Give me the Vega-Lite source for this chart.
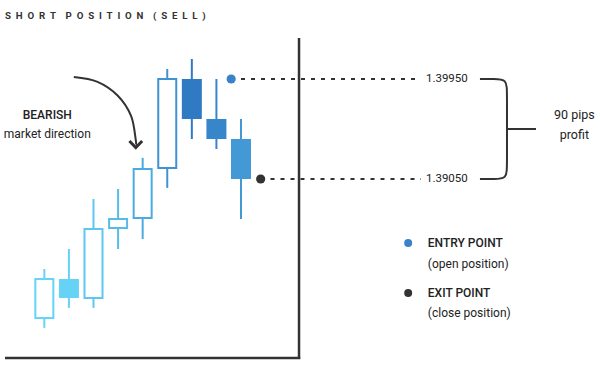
{
  "$schema": "https://vega.github.io/schema/vega-lite/v6.json",
  "width": 600,
  "height": 370,
  "autosize": {"type": "fit", "contains": "padding"},
  "padding": 0,
  "background": "white",
  "config": {"view": {"stroke": null}, "font": "Roboto"},
  "datasets": {
    "candles": [
      {"c": 1, "open": 1.3780, "high": 1.3824, "low": 1.3771, "close": 1.3815},
      {"c": 2, "open": 1.3815, "high": 1.3842, "low": 1.3789, "close": 1.3798},
      {"c": 3, "open": 1.3798, "high": 1.3887, "low": 1.3789, "close": 1.3860},
      {"c": 4, "open": 1.3861, "high": 1.3896, "low": 1.3842, "close": 1.3869},
      {"c": 5, "open": 1.3870, "high": 1.3924, "low": 1.3851, "close": 1.3914},
      {"c": 6, "open": 1.3915, "high": 1.4004, "low": 1.3897, "close": 1.3995},
      {"c": 7, "open": 1.3995, "high": 1.4013, "low": 1.3941, "close": 1.3959},
      {"c": 8, "open": 1.3959, "high": 1.3995, "low": 1.3932, "close": 1.3941},
      {"c": 9, "open": 1.3941, "high": 1.3959, "low": 1.3869, "close": 1.3905}
    ],
    "levels": [
      {"name": "entry", "price": 1.3995, "dot": 8.6, "from": 9.0, "to": 16.32, "label": "1.39950"},
      {"name": "exit", "price": 1.3905, "dot": 9.8, "from": 10.2, "to": 16.32, "label": "1.39050"}
    ],
    "legend": [
      {"name": "entry", "x": 15.8, "tx": 16.6, "y1": 1.38474, "y2": 1.38285, "head": "ENTRY POINT", "sub": "(open position)"},
      {"name": "exit", "x": 15.8, "tx": 16.6, "y1": 1.38024, "y2": 1.37844, "head": "EXIT POINT", "sub": "(close position)"}
    ],
    "bracket": [
      {"o": 1, "x": 18.72, "y": 1.3995},
      {"o": 2, "x": 19.28, "y": 1.3995},
      {"o": 3, "x": 19.82, "y": 1.3995},
      {"o": 4, "x": 19.82, "y": 1.39824},
      {"o": 5, "x": 19.82, "y": 1.39176},
      {"o": 6, "x": 19.82, "y": 1.3905},
      {"o": 7, "x": 19.28, "y": 1.3905},
      {"o": 8, "x": 18.72, "y": 1.3905}
    ],
    "arc": [
      {"o": 1, "x": 2.2, "y": 1.39968},
      {"o": 2, "x": 3.164, "y": 1.399248},
      {"o": 3, "x": 3.98, "y": 1.398015},
      {"o": 4, "x": 4.528, "y": 1.396179},
      {"o": 5, "x": 4.72, "y": 1.39401},
      {"o": 6, "x": 4.72, "y": 1.39356}
    ],
    "chevron": [
      {"o": 1, "x": 4.46, "y": 1.39392},
      {"o": 2, "x": 4.72, "y": 1.393335},
      {"o": 3, "x": 4.98, "y": 1.39392}
    ],
    "frame": [
      {"x": 11.36, "x2": 11.36, "y": 1.40319, "y2": 1.37430},
      {"x": -0.6, "x2": 11.41, "y": 1.37439, "y2": 1.37439}
    ],
    "texts": [
      {"x": -0.6, "y": 1.40517, "t": "S\u00a0\u00a0H\u00a0\u00a0O\u00a0\u00a0R\u00a0\u00a0T\u00a0\u00a0\u00a0\u00a0P\u00a0\u00a0O\u00a0\u00a0S\u00a0\u00a0I\u00a0\u00a0T\u00a0\u00a0I\u00a0\u00a0O\u00a0\u00a0N\u00a0\u00a0\u00a0\u00a0(\u00a0\u00a0S\u00a0\u00a0E\u00a0\u00a0L\u00a0\u00a0L\u00a0\u00a0)", "k": "title"},
      {"x": 1.12, "y": 1.39626, "t": "BEARISH", "k": "bold"},
      {"x": 1.12, "y": 1.39455, "t": "market direction", "k": "plain"},
      {"x": 22.56, "y": 1.39626, "t": "90 pips", "k": "side"},
      {"x": 22.56, "y": 1.39446, "t": "profit", "k": "side"}
    ]
  },
  "encoding": {},
  "layer": [
    {
      "data": {"name": "frame"},
      "mark": {"type": "rule", "color": "#333333", "strokeWidth": 2.5},
      "encoding": {
        "x": {"field": "x", "type": "quantitative", "scale": {"domain": [-0.6, 23.4], "nice": false, "zero": false}, "axis": null},
        "x2": {"field": "x2"},
        "y": {"field": "y", "type": "quantitative", "scale": {"domain": [1.37331, 1.40661], "nice": false, "zero": false}, "axis": null},
        "y2": {"field": "y2"}
      }
    },
    {
      "data": {"name": "candles"},
      "mark": {"type": "rule", "strokeWidth": 2},
      "encoding": {
        "x": {"field": "c", "type": "quantitative"},
        "y": {"field": "low", "type": "quantitative"},
        "y2": {"field": "high"},
        "color": {"field": "c", "type": "ordinal", "legend": null,
          "scale": {"range": ["#66d4f8", "#66d2f6", "#5dc7f0", "#55bcea", "#4aabe1", "#3f93d2", "#2f7ac3", "#3886ca", "#4398d6"]}}
      }
    },
    {
      "data": {"name": "candles"},
      "transform": [{"filter": "datum.close > datum.open"}],
      "mark": {"type": "bar", "fill": "white", "strokeWidth": 2, "size": 18},
      "encoding": {
        "x": {"field": "c", "type": "quantitative"},
        "y": {"field": "open", "type": "quantitative"},
        "y2": {"field": "close"},
        "stroke": {"field": "c", "type": "ordinal", "legend": null,
          "scale": {"domain": [1, 2, 3, 4, 5, 6, 7, 8, 9], "range": ["#66d4f8", "#66d2f6", "#5dc7f0", "#55bcea", "#4aabe1", "#3f93d2", "#2f7ac3", "#3886ca", "#4398d6"]}}
      }
    },
    {
      "data": {"name": "candles"},
      "transform": [{"filter": "datum.close < datum.open"}],
      "mark": {"type": "bar", "size": 20},
      "encoding": {
        "x": {"field": "c", "type": "quantitative"},
        "y": {"field": "open", "type": "quantitative"},
        "y2": {"field": "close"},
        "color": {"field": "c", "type": "ordinal", "legend": null}
      }
    },
    {
      "data": {"name": "levels"},
      "mark": {"type": "rule", "color": "#333333", "strokeWidth": 2, "strokeDash": [4, 6]},
      "encoding": {
        "x": {"field": "from", "type": "quantitative"},
        "x2": {"field": "to"},
        "y": {"field": "price", "type": "quantitative"}
      }
    },
    {
      "data": {"name": "levels"},
      "mark": {"type": "circle", "size": 85, "opacity": 1},
      "encoding": {
        "x": {"field": "dot", "type": "quantitative"},
        "y": {"field": "price", "type": "quantitative"},
        "fill": {"field": "name", "type": "nominal", "legend": null,
          "scale": {"domain": ["entry", "exit"], "range": ["#3a82c8", "#333333"]}}
      }
    },
    {
      "data": {"name": "levels"},
      "mark": {"type": "text", "align": "left", "baseline": "middle", "dx": 5, "fontSize": 11.5, "color": "#222222"},
      "encoding": {
        "x": {"field": "to", "type": "quantitative"},
        "y": {"field": "price", "type": "quantitative"},
        "text": {"field": "label"}
      }
    },
    {
      "data": {"name": "bracket"},
      "mark": {"type": "line", "interpolate": "basis", "color": "#333333", "strokeWidth": 2},
      "encoding": {
        "x": {"field": "x", "type": "quantitative"},
        "y": {"field": "y", "type": "quantitative"},
        "order": {"field": "o"}
      }
    },
    {
      "data": {"values": [{"x": 19.82, "x2": 21.0, "y": 1.3950}]},
      "mark": {"type": "rule", "color": "#333333", "strokeWidth": 2},
      "encoding": {
        "x": {"field": "x", "type": "quantitative"},
        "x2": {"field": "x2"},
        "y": {"field": "y", "type": "quantitative"}
      }
    },
    {
      "data": {"name": "arc"},
      "mark": {"type": "line", "interpolate": "cardinal", "color": "#333333", "strokeWidth": 2},
      "encoding": {
        "x": {"field": "x", "type": "quantitative"},
        "y": {"field": "y", "type": "quantitative"},
        "order": {"field": "o"}
      }
    },
    {
      "data": {"name": "chevron"},
      "mark": {"type": "line", "color": "#333333", "strokeWidth": 3, "strokeJoin": "miter", "strokeCap": "butt"},
      "encoding": {
        "x": {"field": "x", "type": "quantitative"},
        "y": {"field": "y", "type": "quantitative"},
        "order": {"field": "o"}
      }
    },
    {
      "data": {"name": "legend"},
      "mark": {"type": "circle", "size": 64, "opacity": 1},
      "encoding": {
        "x": {"field": "x", "type": "quantitative"},
        "y": {"field": "y1", "type": "quantitative"},
        "fill": {"field": "name", "type": "nominal", "legend": null}
      }
    },
    {
      "data": {"name": "legend"},
      "mark": {"type": "text", "align": "left", "baseline": "middle", "fontSize": 12, "fontWeight": 500, "color": "#222222"},
      "encoding": {
        "x": {"field": "tx", "type": "quantitative"},
        "y": {"field": "y1", "type": "quantitative"},
        "text": {"field": "head"}
      }
    },
    {
      "data": {"name": "legend"},
      "mark": {"type": "text", "align": "left", "baseline": "middle", "fontSize": 12, "color": "#222222"},
      "encoding": {
        "x": {"field": "tx", "type": "quantitative"},
        "y": {"field": "y2", "type": "quantitative"},
        "text": {"field": "sub"}
      }
    },
    {
      "data": {"name": "texts"},
      "transform": [{"filter": "datum.k == 'title'"}],
      "mark": {"type": "text", "align": "left", "baseline": "middle", "fontSize": 9.7, "fontWeight": "bold", "color": "#333333"},
      "encoding": {
        "x": {"field": "x", "type": "quantitative"},
        "y": {"field": "y", "type": "quantitative"},
        "text": {"field": "t"}
      }
    },
    {
      "data": {"name": "texts"},
      "transform": [{"filter": "datum.k == 'bold'"}],
      "mark": {"type": "text", "align": "center", "baseline": "middle", "fontSize": 12, "fontWeight": 500, "color": "#222222"},
      "encoding": {
        "x": {"field": "x", "type": "quantitative"},
        "y": {"field": "y", "type": "quantitative"},
        "text": {"field": "t"}
      }
    },
    {
      "data": {"name": "texts"},
      "transform": [{"filter": "datum.k == 'plain'"}],
      "mark": {"type": "text", "align": "center", "baseline": "middle", "fontSize": 12, "color": "#222222"},
      "encoding": {
        "x": {"field": "x", "type": "quantitative"},
        "y": {"field": "y", "type": "quantitative"},
        "text": {"field": "t"}
      }
    },
    {
      "data": {"name": "texts"},
      "transform": [{"filter": "datum.k == 'side'"}],
      "mark": {"type": "text", "align": "center", "baseline": "middle", "fontSize": 12.5, "color": "#222222"},
      "encoding": {
        "x": {"field": "x", "type": "quantitative"},
        "y": {"field": "y", "type": "quantitative"},
        "text": {"field": "t"}
      }
    }
  ]
}
